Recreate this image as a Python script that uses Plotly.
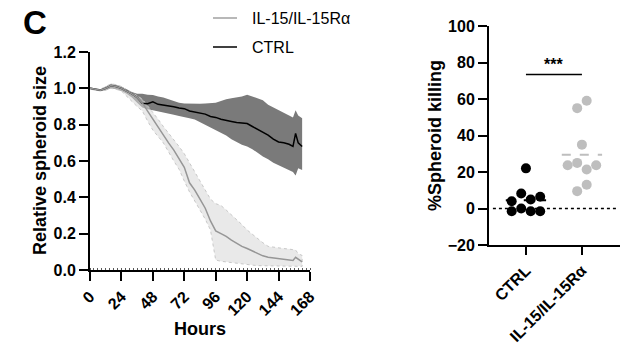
import plotly.graph_objects as go

# ---------------- data: left panel (relative spheroid size over time) ----------------
hours = [0, 4, 8, 12, 16, 20, 24, 28, 32, 36, 40, 44, 48, 52, 56, 60, 64, 68, 72, 76, 80,
         84, 88, 92, 96, 100, 104, 108, 112, 116, 120, 124, 128, 132, 136, 140, 144, 148,
         152, 155, 157, 159, 162]

ctrl_mean = [1.0, 0.995, 0.99, 1.0, 1.015, 1.01, 1.0, 0.985, 0.97, 0.95, 0.918, 0.915, 0.926,
             0.912, 0.908, 0.905, 0.898, 0.892, 0.888, 0.875, 0.868, 0.865, 0.858, 0.845, 0.84,
             0.83, 0.822, 0.818, 0.812, 0.81, 0.806, 0.79, 0.775, 0.76, 0.742, 0.72, 0.705,
             0.70, 0.692, 0.68, 0.752, 0.70, 0.68]
ctrl_upper = [1.005, 1.0, 0.995, 1.01, 1.025, 1.02, 1.01, 0.995, 0.98, 0.97, 0.97, 0.965, 0.963,
              0.955, 0.95, 0.94, 0.93, 0.92, 0.917, 0.915, 0.915, 0.915, 0.917, 0.918, 0.92,
              0.93, 0.94, 0.945, 0.95, 0.955, 0.965, 0.955, 0.945, 0.935, 0.91, 0.895, 0.88,
              0.865, 0.85, 0.84, 0.88, 0.85, 0.836]
ctrl_lower = [0.995, 0.99, 0.985, 0.99, 1.0, 0.995, 0.985, 0.97, 0.95, 0.92, 0.895, 0.885, 0.88,
              0.875, 0.87, 0.862, 0.855, 0.848, 0.84, 0.835, 0.828, 0.815, 0.80, 0.785, 0.772,
              0.755, 0.74, 0.72, 0.705, 0.69, 0.68, 0.665, 0.645, 0.625, 0.61, 0.59, 0.575,
              0.56, 0.55, 0.54, 0.52, 0.56, 0.55]

il15_mean = [1.0, 0.995, 0.99, 1.0, 1.015, 1.01, 1.0, 0.985, 0.97, 0.95, 0.92, 0.875, 0.83,
             0.785, 0.74, 0.70, 0.66, 0.615, 0.565, 0.48, 0.44, 0.39, 0.34, 0.27, 0.215,
             0.20, 0.185, 0.165, 0.148, 0.13, 0.118, 0.105, 0.092, 0.078, 0.07, 0.066, 0.063,
             0.06, 0.056, 0.053, 0.07, 0.058, 0.045]
il15_upper = [1.005, 1.0, 0.995, 1.01, 1.025, 1.02, 1.01, 0.99, 0.975, 0.96, 0.94, 0.905, 0.87,
              0.83, 0.79, 0.755, 0.72, 0.68, 0.64, 0.59, 0.545, 0.49, 0.44, 0.39, 0.365,
              0.355, 0.33, 0.305, 0.28, 0.25, 0.22, 0.195, 0.17, 0.15, 0.13, 0.125, 0.12,
              0.118, 0.115, 0.11, 0.11, 0.09, 0.08]
il15_lower = [0.995, 0.99, 0.985, 0.99, 1.0, 0.995, 0.985, 0.96, 0.93, 0.90, 0.875, 0.82, 0.77,
              0.735, 0.70, 0.65, 0.60, 0.555, 0.49, 0.43, 0.38, 0.33, 0.28, 0.22, 0.055,
              0.048, 0.044, 0.04, 0.037, 0.033, 0.03, 0.027, 0.024, 0.022, 0.02, 0.02, 0.02,
              0.02, 0.02, 0.02, 0.02, 0.02, 0.02]

series_names = ["IL-15/IL-15Rα", "CTRL"]
hour_ticks = [0, 24, 48, 72, 96, 120, 144, 168]
size_ticks = [0.0, 0.2, 0.4, 0.6, 0.8, 1.0, 1.2]

# ---------------- data: right panel (% spheroid killing) ----------------
groups = ["CTRL", "IL-15/IL-15Rα"]
ctrl_kill = [22.0, 4.0, 8.2, 4.9, 6.4, -1.5, 0.0, -1.5, -1.5]
il15_kill = [55.0, 59.0, 35.0, 23.7, 25.0, 21.4, 23.7, 9.5, 13.0]
kill_ticks = [-20, 0, 20, 40, 60, 80, 100]
sig_label = "***"

# ---------------- layout geometry ----------------
W, H = 640, 352
FONT = "Liberation Sans, Arial, Helvetica, sans-serif"
x1_dom = [90 / W, 310 / W]
y1_dom = [1 - 270 / H, 1 - 52 / H]
x2_dom = [489 / W, 620 / W]
y2_dom = [1 - 245 / H, 1 - 26 / H]
x2_range = [-0.66, 1.68]
y2_range = [-20, 100]

px_per_y2 = (y2_dom[1] - y2_dom[0]) * H / (y2_range[1] - y2_range[0])
px_per_x2 = (x2_dom[1] - x2_dom[0]) * W / (x2_range[1] - x2_range[0])
MARKER_D = 10
SPACING_PX = 9.5


def beeswarm(values):
    """Group nearby values into rows and spread each row symmetrically."""
    thr = MARKER_D / px_per_y2 * 0.91
    order = sorted(range(len(values)), key=lambda i: values[i])
    rows, cur, start = [], [], None
    for i in order:
        if cur and values[i] - start >= thr:
            rows.append(cur)
            cur = []
        if not cur:
            start = values[i]
        cur.append(i)
    if cur:
        rows.append(cur)
    offs = [0.0] * len(values)
    for row in rows:
        row = sorted(row)
        n = len(row)
        for k, i in enumerate(row):
            offs[i] = (k - (n - 1) / 2) * SPACING_PX / px_per_x2
    return offs


fig = go.Figure()

# CTRL band
fig.add_trace(go.Scatter(
    x=hours + hours[::-1], y=ctrl_upper + ctrl_lower[::-1],
    fill="toself", fillcolor="rgb(122,122,122)", line=dict(width=0),
    mode="lines", hoverinfo="skip", showlegend=False, xaxis="x", yaxis="y"))
# IL-15 band
fig.add_trace(go.Scatter(
    x=hours + hours[::-1], y=il15_upper + il15_lower[::-1],
    fill="toself", fillcolor="rgba(215,215,215,0.55)",
    line=dict(width=1, color="rgb(200,200,200)", dash="dot"),
    mode="lines", hoverinfo="skip", showlegend=False, xaxis="x", yaxis="y"))
# CTRL mean
fig.add_trace(go.Scatter(
    x=hours, y=ctrl_mean, mode="lines", line=dict(color="black", width=1.5),
    name=series_names[1], showlegend=False, xaxis="x", yaxis="y"))
# IL-15 mean
fig.add_trace(go.Scatter(
    x=hours, y=il15_mean, mode="lines", line=dict(color="rgb(150,150,150)", width=1.5),
    name=series_names[0], showlegend=False, xaxis="x", yaxis="y"))

# right panel
colors = ["black", "rgb(190,190,190)"]
for gi, (vals, col) in enumerate(zip([ctrl_kill, il15_kill], colors)):
    mean = sum(vals) / len(vals)
    fig.add_trace(go.Scatter(
        x=[gi - 0.36, gi + 0.36], y=[mean, mean], mode="lines",
        line=dict(color=col, width=2, dash="dash"), showlegend=False,
        hoverinfo="skip", xaxis="x2", yaxis="y2"))
    offs = beeswarm(vals)
    fig.add_trace(go.Scatter(
        x=[gi + o for o in offs], y=vals, mode="markers",
        marker=dict(color=col, size=MARKER_D, line=dict(width=0)),
        showlegend=False, name=groups[gi], xaxis="x2", yaxis="y2"))

sig_y = 73.4

axis_common = dict(showline=True, linecolor="black", linewidth=2, ticks="outside",
                   tickcolor="black", tickwidth=2, showgrid=False, zeroline=False,
                   automargin=False,
                   tickfont=dict(family=FONT, size=16, color="black", weight="bold"))


def label(text, x, y, size, bold=True, angle=0, xanchor="center"):
    return dict(text=text, x=x / W, y=1 - y / H, xref="paper", yref="paper",
                xanchor=xanchor, yanchor="middle", textangle=angle, showarrow=False,
                font=dict(size=size, family=FONT, color="black",
                          weight="bold" if bold else "normal"))


fig.update_layout(
    width=W, height=H, margin=dict(l=0, r=0, t=0, b=0, autoexpand=False),
    paper_bgcolor="white", plot_bgcolor="rgba(0,0,0,0)",
    font=dict(family=FONT, color="black"),
    xaxis=dict(domain=x1_dom, range=[0, 168], tickvals=hour_ticks, ticklen=9,
               tickangle=-45, anchor="y",
               minor=dict(dtick=3, ticks="inside", ticklen=2, tickcolor="rgb(90,90,90)",
                          tickwidth=1),
               **axis_common),
    yaxis=dict(domain=y1_dom, range=[0, 1.2], tickvals=size_ticks, tickformat=".1f",
               ticklen=9, anchor="x", **axis_common),
    xaxis2=dict(domain=x2_dom, range=x2_range, tickvals=[0, 1], ticktext=groups,
                ticklen=8, tickangle=-45, anchor="y2", **axis_common),
    yaxis2=dict(domain=y2_dom, range=y2_range, tickvals=kill_ticks, ticklen=9,
                anchor="x2", **axis_common),
    shapes=[
        dict(type="line", xref="x2", yref="y2", x0=-0.59, x1=1.63, y0=0, y1=0,
             line=dict(color="black", width=1.5, dash="dot")),
        dict(type="line", xref="x2", yref="y2", x0=0, x1=1, y0=sig_y, y1=sig_y,
             line=dict(color="black", width=1.5)),
        dict(type="line", xref="paper", yref="paper", x0=213 / W, x1=237 / W,
             y0=1 - 18 / H, y1=1 - 18 / H, line=dict(color="rgb(160,160,160)", width=1.5)),
        dict(type="line", xref="paper", yref="paper", x0=213 / W, x1=237 / W,
             y0=1 - 47 / H, y1=1 - 47 / H, line=dict(color="black", width=1.5)),
    ],
    annotations=[
        label("C", 35, 22, 33),
        label("Relative spheroid size", 40, 161, 18, angle=-90),
        label("Hours", 200, 329, 18),
        label("%Spheroid killing", 435, 136, 18, angle=-90),
        label(series_names[0], 250, 18, 16, bold=False, xanchor="left"),
        label(series_names[1], 250, 47, 16, bold=False, xanchor="left"),
        dict(text=sig_label, x=0.5, y=sig_y, xref="x2", yref="y2", yanchor="bottom",
             xanchor="center", showarrow=False,
             font=dict(size=16, weight="bold", family=FONT, color="black")),
    ],
)

fig.write_html("out.html")
